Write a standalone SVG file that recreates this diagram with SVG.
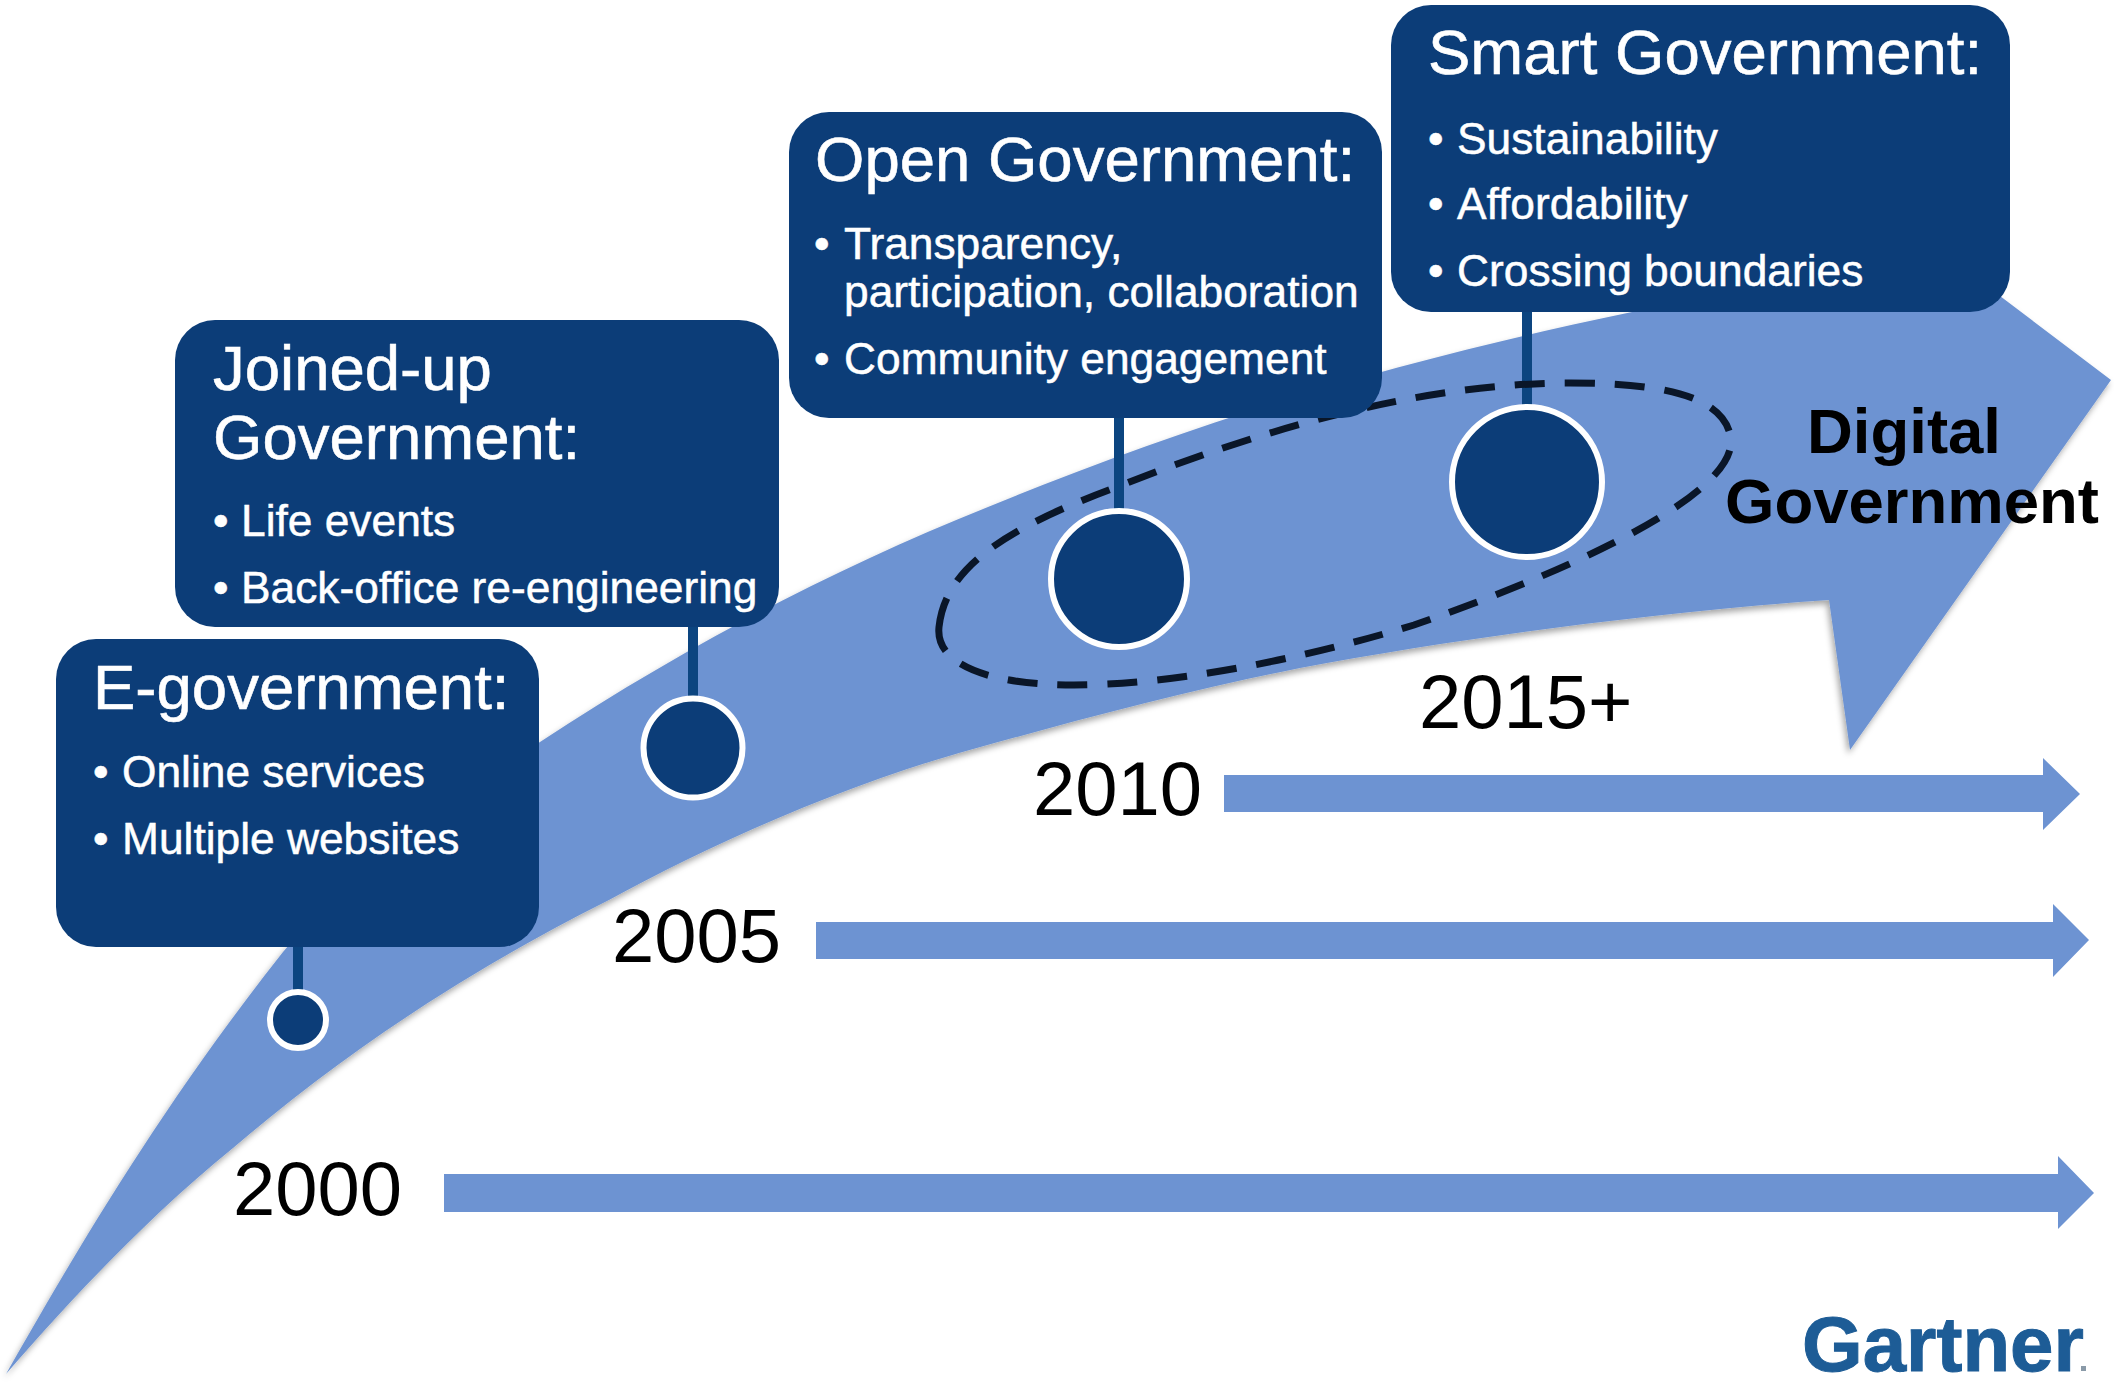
<svg xmlns="http://www.w3.org/2000/svg" width="2114" height="1388" viewBox="0 0 2114 1388">
<defs>
<style>
text{font-family:"Liberation Sans",Arial,sans-serif}
.box{fill:#0c3d78}
.title{fill:#fff;font-size:63.5px;stroke:#fff;stroke-width:.6}
.item{fill:#fff;font-size:44.3px;stroke:#fff;stroke-width:.5}
.year{fill:#000;font-size:76px}
.dot{fill:#0c3d78;stroke:#fff;stroke-width:6}
.stem{stroke:#0c4580;stroke-width:10;fill:none}
.bar{fill:#6d93d2}
.dg{fill:#000;font-size:63.5px;font-weight:bold;text-anchor:middle}
</style>
<filter id="sh" x="-5%" y="-5%" width="110%" height="110%">
<feDropShadow dx="-2" dy="4" stdDeviation="3" flood-color="#000" flood-opacity="0.35"/>
</filter>
</defs>
<rect width="2114" height="1388" fill="#fff"/>
<path id="swoosh" class="bar" filter="url(#sh)" d="M6 1374 C60 1280 150 1120 283 952 C360 860 450 800 540 742 C680 650 830 570 988 507 C1200 420 1400 360 1632 312 L1955 262 L2111 380 L1850 750 L1829 600 C1650 612 1450 640 1300 668 C1180 692 1070 722 959 753 C830 790 700 850 609 900 C480 965 360 1040 233 1148 C150 1215 70 1300 6 1374Z"/>
<g id="connectors">
<path class="stem" d="M298 947V992"/>
<path class="stem" d="M693 627V698"/>
<path class="stem" d="M1119 418V512"/>
<path class="stem" d="M1527 312V415"/>
</g>
<path id="highlight" d="M939 627 C945 570 1000 530 1117 487 C1260 430 1420 383 1570 383 C1660 383 1725 395 1731 439 C1735 490 1600 560 1414 625 C1300 660 1170 685 1074 685 C990 685 935 665 939 627Z" fill="none" stroke="#0a1628" stroke-width="7" stroke-dasharray="30 20"/>
<g id="e-gov">
<rect class="box" x="56" y="639" width="483" height="308" rx="40"/>
<text class="title" x="93" y="709">E-government:</text>
<text class="item" x="93" y="787">•<tspan x="122">Online services</tspan></text>
<text class="item" x="93" y="854">•<tspan x="122">Multiple websites</tspan></text>
<circle class="dot" cx="298" cy="1020" r="28"/>
</g>
<g id="joined">
<rect class="box" x="175" y="320" width="604" height="307" rx="40"/>
<text class="title" x="213" y="390">Joined-up</text>
<text class="title" x="213" y="459">Government:</text>
<text class="item" x="213" y="536">•<tspan x="241">Life events</tspan></text>
<text class="item" x="213" y="603">•<tspan x="241">Back-office re-engineering</tspan></text>
<circle class="dot" cx="693" cy="748" r="49.5"/>
</g>
<g id="open">
<rect class="box" x="789" y="112" width="593" height="306" rx="40"/>
<text class="title" x="815" y="181">Open Government:</text>
<text class="item" x="814" y="259">•<tspan x="844">Transparency,</tspan></text>
<text class="item" x="844" y="307">participation, collaboration</text>
<text class="item" x="814" y="374">•<tspan x="844">Community engagement</tspan></text>
<circle class="dot" cx="1119" cy="579" r="68"/>
</g>
<g id="smart">
<rect class="box" x="1391" y="5" width="619" height="307" rx="40"/>
<text class="title" x="1428" y="74">Smart Government:</text>
<text class="item" x="1428" y="154">•<tspan x="1457">Sustainability</tspan></text>
<text class="item" x="1428" y="219">•<tspan x="1457">Affordability</tspan></text>
<text class="item" x="1428" y="286">•<tspan x="1457">Crossing boundaries</tspan></text>
<circle class="dot" cx="1527" cy="482" r="75"/>
</g>
<g id="digital">
<text class="dg" x="1904" y="453">Digital</text>
<text class="dg" x="1912" y="523">Government</text>
</g>
<g id="y2000"><text class="year" x="233" y="1215">2000</text><path class="bar" d="M444 1174H2058V1156L2094 1193L2058 1229V1212H444Z"/></g>
<g id="y2005"><text class="year" x="612" y="962">2005</text><path class="bar" d="M816 922H2053V904L2089 940L2053 977V959H816Z"/></g>
<g id="y2010"><text class="year" x="1033" y="815">2010</text><path class="bar" d="M1224 775H2043V758L2080 794L2043 830V812H1224Z"/></g>
<g id="y2015"><text class="year" x="1419" y="728">2015+</text></g>
<g id="gartner-logo">
<text id="gartner" x="1802" y="1371" font-size="78" font-weight="bold" fill="#1d5c96" stroke="#1d5c96" stroke-width="1">Gartner</text>
<rect x="2081" y="1366" width="5" height="5" fill="#8a9aa8"/>
</g>
</svg>
